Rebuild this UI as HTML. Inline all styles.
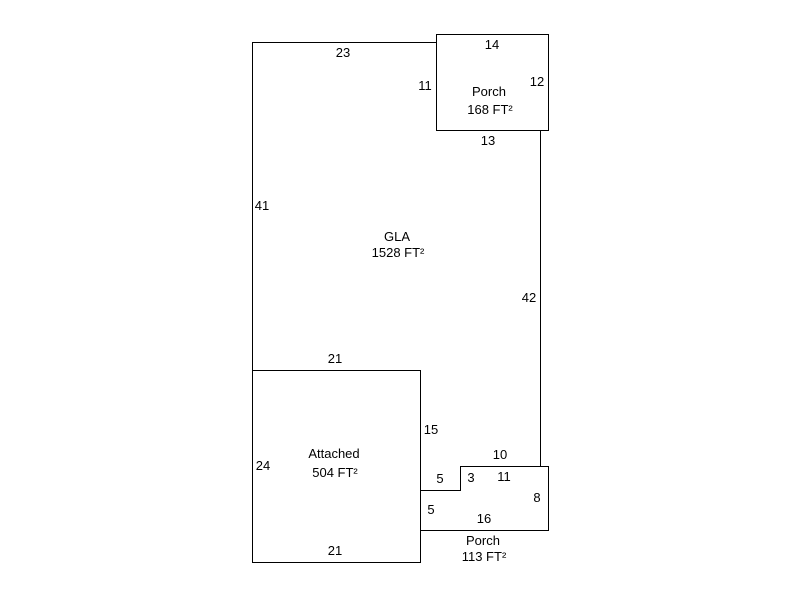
<!DOCTYPE html>
<html><head><style>html,body{margin:0;padding:0;background:#fff}</style></head><body>
<svg width="800" height="600" xmlns="http://www.w3.org/2000/svg" style="display:block">
<g fill="none" stroke="#000" stroke-width="1">
<polyline points="436.5,42.5 252.5,42.5 252.5,562.5 420.5,562.5 420.5,370.5 252.5,370.5"/>
<rect x="436.5" y="34.5" width="112" height="96"/>
<line x1="540.5" y1="130" x2="540.5" y2="466"/>
<polyline points="420.5,490.5 460.5,490.5 460.5,466.5 548.5,466.5 548.5,530.5 420.5,530.5"/>
</g>
<g font-family="Liberation Sans, Arial, sans-serif" font-size="13" fill="#000" text-anchor="middle">
<text x="343" y="57">23</text>
<text x="492" y="49">14</text>
<text x="425" y="90">11</text>
<text x="537" y="86">12</text>
<text x="489" y="96">Porch</text>
<text x="490" y="114">168 FT²</text>
<text x="488" y="145">13</text>
<text x="262" y="210">41</text>
<text x="397" y="241">GLA</text>
<text x="398" y="257">1528 FT²</text>
<text x="529" y="302">42</text>
<text x="335" y="363">21</text>
<text x="431" y="434">15</text>
<text x="334" y="458">Attached</text>
<text x="335" y="477">504 FT²</text>
<text x="263" y="470">24</text>
<text x="500" y="459">10</text>
<text x="440" y="483">5</text>
<text x="471" y="482">3</text>
<text x="504" y="481">11</text>
<text x="537" y="502">8</text>
<text x="431" y="514">5</text>
<text x="484" y="523">16</text>
<text x="483" y="545">Porch</text>
<text x="484" y="561">113 FT²</text>
<text x="335" y="555">21</text>
</g>
</svg>
</body></html>
